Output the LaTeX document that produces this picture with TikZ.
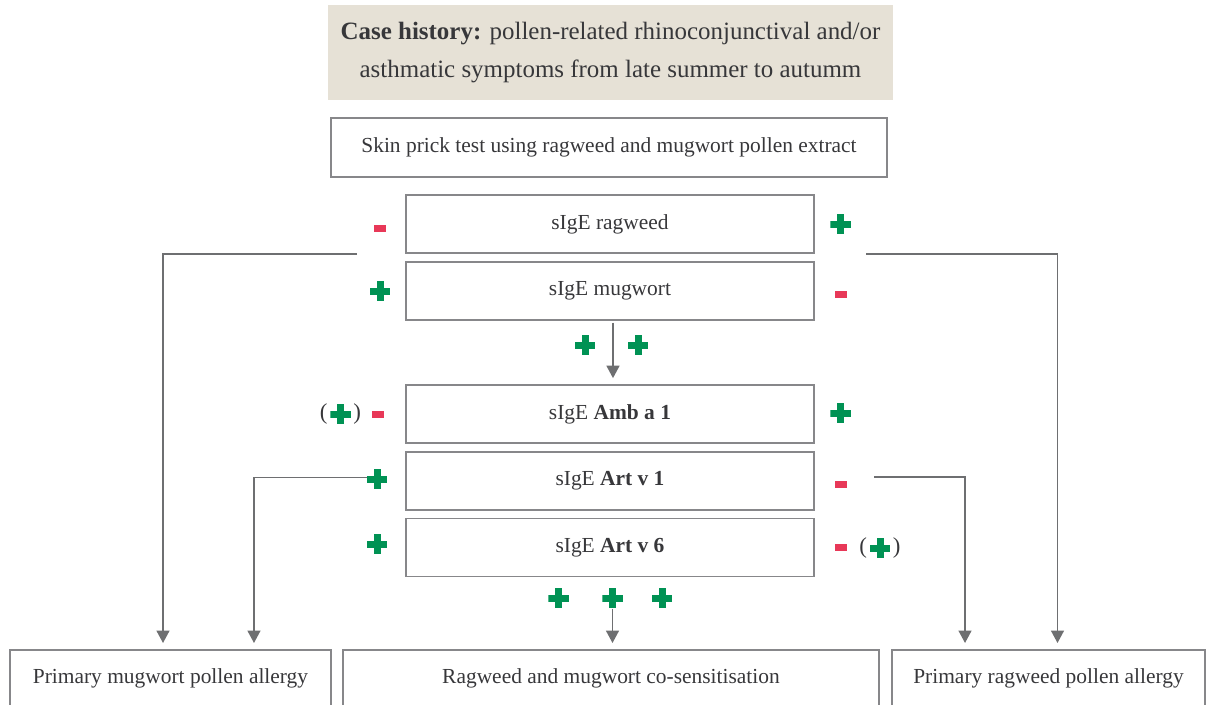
\documentclass[tikz,border=0pt]{standalone}
\usepackage{fontspec}
\setmainfont{Liberation Serif}
\usetikzlibrary{positioning,arrows.meta}
\definecolor{casebeige}{RGB}{230,225,214}
\definecolor{framegray}{RGB}{135,135,138}
\definecolor{linegray}{RGB}{110,111,113}
\definecolor{txtgray}{RGB}{55,55,58}
\definecolor{posgreen}{RGB}{0,146,84}
\definecolor{negred}{RGB}{232,56,88}

\begin{document}
\begin{tikzpicture}[
    x=0.02cm, y=-0.02cm,
    font=\fontsize{12.2}{14}\selectfont, text=txtgray,
    casebox/.style={fill=casebeige, minimum width=11.3cm, minimum height=1.9cm, align=center,
        font=\fontsize{14.2}{21.6}\selectfont},
    box/.style={draw=framegray, line width=1pt, minimum width=8.16cm, minimum height=1.16cm, inner sep=0pt},
    outbox/.style={draw=framegray, line width=1pt, anchor=north, inner xsep=0pt, inner ysep=0.38cm,
        text height=0.3cm, text depth=0.5cm},
    plussign/.style={minimum size=0.41cm, inner sep=0pt, path picture={
        \fill[posgreen] ([xshift=-0.07cm]path picture bounding box.north) rectangle ([xshift=0.07cm]path picture bounding box.south);
        \fill[posgreen] ([yshift=0.07cm]path picture bounding box.west) rectangle ([yshift=-0.07cm]path picture bounding box.east);}},
    minussign/.style={fill=negred, minimum width=0.24cm, minimum height=0.14cm, inner sep=0pt},
    paren/.style={inner sep=0pt, font=\fontsize{13}{15}\selectfont},
    arrow/.style={-{Triangle[length=0.25cm, width=0.26cm]}, line width=0.9pt, draw=linegray, shorten >=0.12cm}
]
\useasboundingbox (0,0) rectangle (1208,704);
% history and tests
\node[casebox] (case) at (610.5,52.5) {\textbf{Case history:} pollen-related rhinoconjunctival and/or\\asthmatic symptoms from late summer to autumm};
\node[box, minimum width=11.12cm, minimum height=1.18cm] (skin) at (609,147.5) {Skin prick test using ragweed and mugwort pollen extract};
\node[box] (rag) at (610,224) {sIgE ragweed};
\node[box, below=0.14cm of rag] (mug) {sIgE mugwort};
\node[box] (amb) at (610,414) {sIgE \textbf{Amb a 1}};
\node[box, below=0.14cm of amb] (artone) {sIgE \textbf{Art v 1}};
\node[box, below=0.14cm of artone] (artsix) {sIgE \textbf{Art v 6}};
% outcomes
\node[outbox, minimum width=6.42cm] (mugall) at (170.5,649) {Primary mugwort pollen allergy};
\node[outbox, minimum width=10.72cm] (cosens) at (611,649) {Ragweed and mugwort co-sensitisation};
\node[outbox, minimum width=6.26cm] (ragall) at (1048.5,649) {Primary ragweed pollen allergy};
% results
\node[minussign] (ragneg) at (380,228) {};
\node[plussign] (ragpos) at (840.5,224) {};
\node[plussign] (mugpos) at (380,291) {};
\node[minussign] (mugneg) at (841,294.5) {};
\node[plussign] (bothl) at (585,345) {};
\node[plussign] (bothr) at (638,345) {};
\node[plussign] (ambposb) at (340.5,414) {};
\node[paren, left=0.04cm of ambposb] (amblp) {(};
\node[paren, right=0.04cm of ambposb] (ambrp) {)};
\node[minussign] (ambneg) at (378,414.5) {};
\node[plussign] (ambpos) at (840.5,413) {};
\node[plussign] (artonepos) at (377,479) {};
\node[minussign] (artoneneg) at (841,484) {};
\node[plussign] (artsixpos) at (377,544) {};
\node[minussign] (artsixneg) at (841,547) {};
\node[plussign] (artsixposb) at (880,548) {};
\node[paren, left=0.04cm of artsixposb] (artsixlp) {(};
\node[paren, right=0.04cm of artsixposb] (artsixrp) {)};
\node[plussign] (allone) at (558.5,598) {};
\node[plussign] (alltwo) at (612.5,598) {};
\node[plussign] (allthree) at (662,598) {};
% connectors
\coordinate (tomug) at (357,254);
\coordinate (tomugtwo) at (367,477.3);
\coordinate (torag) at (866,254);
\coordinate (toragtwo) at (874,477);
\draw[arrow] (tomug) -| ([xshift=-0.15cm]mugall.north);
\draw[arrow] (tomugtwo) -| ([xshift=1.67cm]mugall.north);
\draw[arrow] (torag) -| ([xshift=0.18cm]ragall.north);
\draw[arrow] (toragtwo) -| ([xshift=-1.67cm]ragall.north);
\draw[arrow, shorten <=0.04cm] ([xshift=0.06cm]mug.south) -- ([xshift=0.06cm]amb.north);
\draw[arrow] (alltwo.south) -- (alltwo.south |- cosens.north);
\end{tikzpicture}
\end{document}
